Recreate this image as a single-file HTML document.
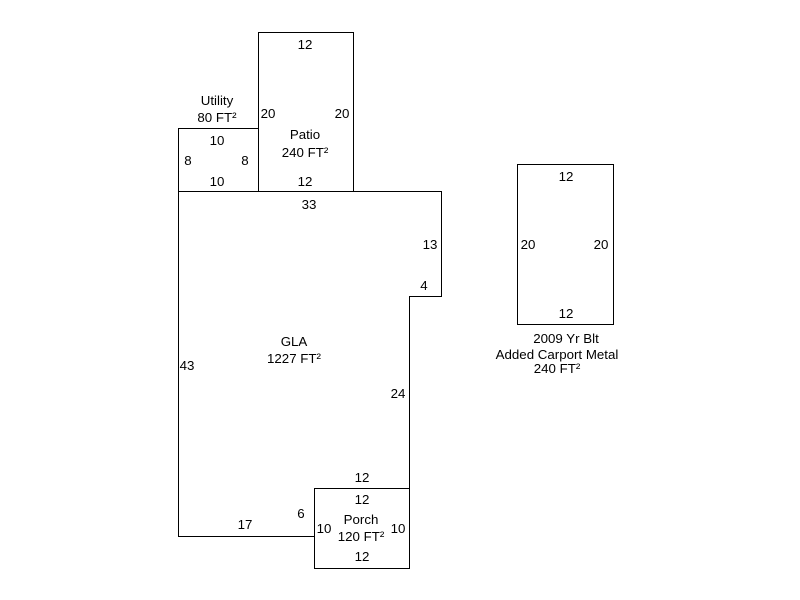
<!DOCTYPE html>
<html><head><meta charset="utf-8"><style>
html,body{margin:0;padding:0;background:#fff;}
svg{display:block;}
text{font-family:"Liberation Sans",Arial,sans-serif;font-size:13.3px;fill:#000;text-anchor:middle;}
</style></head><body>
<svg width="800" height="600" viewBox="0 0 800 600" xmlns="http://www.w3.org/2000/svg">
<g fill="none" stroke="#000" stroke-width="1" shape-rendering="crispEdges">
<rect x="258.5" y="32.5" width="95" height="159"/>
<rect x="178.5" y="128.5" width="80" height="63"/>
<polyline points="178.5,191.5 441.5,191.5 441.5,296.5 409.5,296.5 409.5,488.5"/>
<polyline points="178.5,191.5 178.5,536.5 314.5,536.5"/>
<rect x="314.5" y="488.5" width="95" height="80"/>
<rect x="517.5" y="164.5" width="96" height="160"/>
</g>
<text x="305" y="49">12</text>
<text x="217" y="105">Utility</text>
<text x="217" y="122">80 FT²</text>
<text x="268" y="118">20</text>
<text x="342" y="118">20</text>
<text x="305" y="139">Patio</text>
<text x="305" y="157">240 FT²</text>
<text x="217" y="145">10</text>
<text x="188" y="165">8</text>
<text x="245" y="165">8</text>
<text x="217" y="186">10</text>
<text x="305" y="186">12</text>
<text x="309" y="209">33</text>
<text x="430" y="249">13</text>
<text x="424" y="290">4</text>
<text x="294" y="346">GLA</text>
<text x="294" y="363">1227 FT²</text>
<text x="187" y="370">43</text>
<text x="398" y="398">24</text>
<text x="362" y="482">12</text>
<text x="362" y="504">12</text>
<text x="301" y="518">6</text>
<text x="361" y="524">Porch</text>
<text x="324" y="533">10</text>
<text x="398" y="533">10</text>
<text x="361" y="541">120 FT²</text>
<text x="245" y="529">17</text>
<text x="362" y="561">12</text>
<text x="566" y="181">12</text>
<text x="528" y="249">20</text>
<text x="601" y="249">20</text>
<text x="566" y="318">12</text>
<text x="566" y="343">2009 Yr Blt</text>
<text x="557" y="359">Added Carport Metal</text>
<text x="557" y="373">240 FT²</text>
</svg>
</body></html>
